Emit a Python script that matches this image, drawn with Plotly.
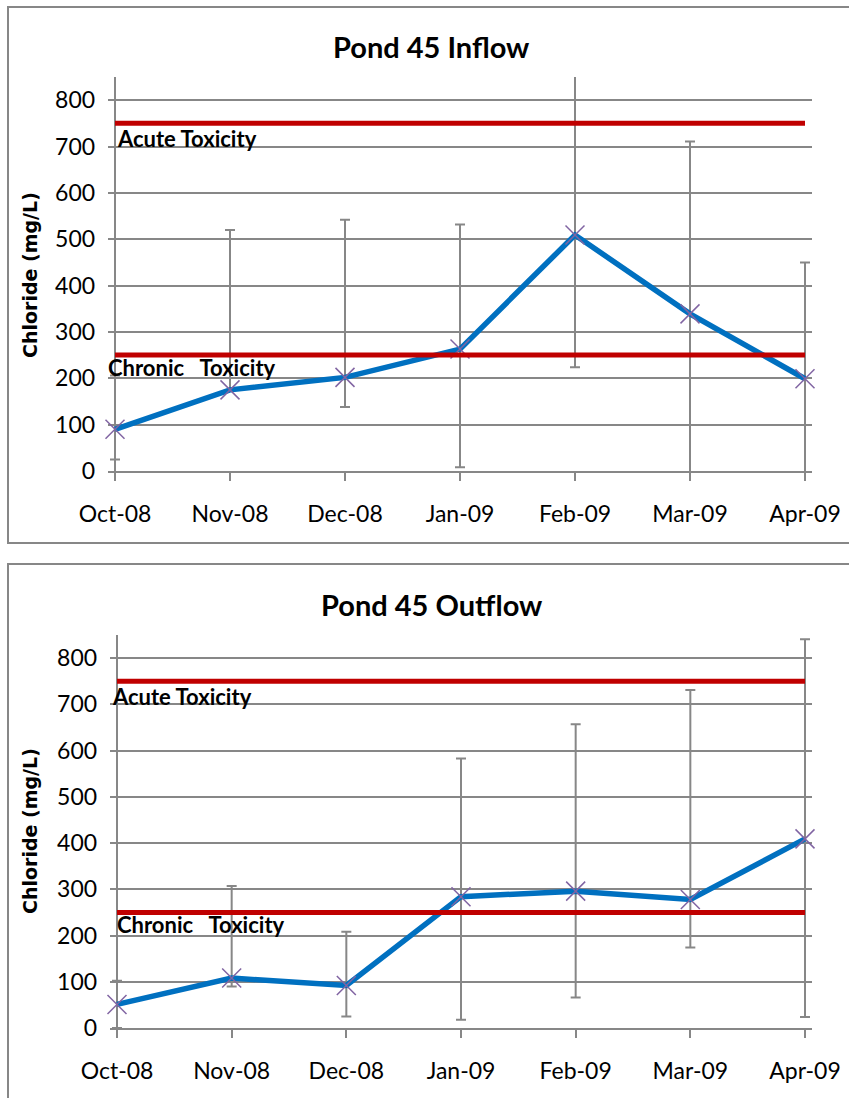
import plotly.graph_objects as go

# months on the x axis
months = ['Oct-08', 'Nov-08', 'Dec-08', 'Jan-09', 'Feb-09', 'Mar-09', 'Apr-09']

# Pond 45 inflow: chloride means and error bar extents (mg/L)
inflow_mean = [90, 175, 202, 263, 509, 339, 199]
inflow_err_plus = [116, 345, 340, 269, 420, 372, 251]
inflow_err_minus = [65, 0, 64, 255, 285, 370, 230]

# Pond 45 outflow
outflow_mean = [51, 108, 92, 284, 296, 278, 409]
outflow_err_plus = [51, 199, 116, 299, 361, 453, 432]
outflow_err_minus = [51, 18, 67, 266, 230, 104, 385]

# toxicity thresholds
acute_level = 750
chronic_level = 250

W, H = 849, 1098
GRAY = '#878787'
RED = '#C00000'
BLUE = '#0070C0'
PURPLE = '#8064A2'
TICK_FONT = dict(family='Lato', size=23, color='black')
PAD = 0.06  # a little room so the edge error bars are not cut in half

x_idx = list(range(len(months)))

fig = go.Figure()


def add_panel(fig, n, mean, eplus, eminus):
    xa = 'x' if n == 1 else f'x{n}'
    ya = 'y' if n == 1 else f'y{n}'
    # error bars (clipped to plot area)
    fig.add_trace(go.Scatter(
        x=x_idx, y=mean, mode='markers', xaxis=xa, yaxis=ya,
        marker=dict(size=1, color='rgba(0,0,0,0)'),
        error_y=dict(type='data', symmetric=False, array=eplus, arrayminus=eminus,
                     color=GRAY, thickness=2, width=5),
        showlegend=False, hoverinfo='skip', cliponaxis=True))
    # data line
    fig.add_trace(go.Scatter(
        x=x_idx, y=mean, mode='lines+markers', xaxis=xa, yaxis=ya,
        line=dict(color=BLUE, width=5.5),
        marker=dict(symbol='x-thin', size=19, line=dict(color=PURPLE, width=1.5)),
        showlegend=False, cliponaxis=False))
    # threshold lines
    for lvl in (acute_level, chronic_level):
        fig.add_trace(go.Scatter(
            x=[x_idx[0], x_idx[-1]], y=[lvl, lvl], mode='lines', xaxis=xa, yaxis=ya,
            line=dict(color=RED, width=5), showlegend=False, hoverinfo='skip'))


add_panel(fig, 1, inflow_mean, inflow_err_plus, inflow_err_minus)
add_panel(fig, 2, outflow_mean, outflow_err_plus, outflow_err_minus)


def px_x(p):
    return p / W


def px_y(p):
    return 1 - p / H


def x_domain(left, right):
    unit = (right - left) / 6
    return [px_x(left - PAD * unit), px_x(right + PAD * unit)]


xaxis_common = dict(range=[-PAD, 6 + PAD], tickvals=x_idx, ticktext=months, showgrid=False,
                    showline=True, linecolor=GRAY, linewidth=2, ticks='outside',
                    ticklen=8, tickcolor=GRAY, tickwidth=2, tickfont=TICK_FONT,
                    ticklabelstandoff=13, zeroline=True, zerolinecolor=GRAY,
                    zerolinewidth=2, fixedrange=True, automargin=False)
yaxis_common = dict(range=[0, 850], tickvals=list(range(0, 801, 100)), showgrid=True,
                    gridcolor=GRAY, gridwidth=2, showline=False, ticks='',
                    tickfont=TICK_FONT, ticklabelstandoff=12, zeroline=False,
                    fixedrange=True, automargin=False)

fig.update_layout(
    width=W, height=H,
    margin=dict(l=0, r=0, t=0, b=0, autoexpand=False),
    paper_bgcolor='white', plot_bgcolor='white',
    xaxis=dict(domain=x_domain(115, 805), anchor='y', **xaxis_common),
    yaxis=dict(domain=[px_y(471), px_y(77)], anchor='x', **yaxis_common),
    xaxis2=dict(domain=x_domain(117, 805), anchor='y2', **xaxis_common),
    yaxis2=dict(domain=[px_y(1028), px_y(635)], anchor='x2', **yaxis_common),
)

# chart borders
fig.add_shape(type='rect', xref='paper', yref='paper',
              x0=px_x(8), x1=1.05, y0=px_y(543), y1=px_y(7),
              line=dict(color=GRAY, width=2), fillcolor='rgba(0,0,0,0)', layer='below')
fig.add_shape(type='rect', xref='paper', yref='paper',
              x0=px_x(8), x1=1.05, y0=-0.05, y1=px_y(564),
              line=dict(color=GRAY, width=2), fillcolor='rgba(0,0,0,0)', layer='below')

TITLE_FONT = dict(family='Lato', size=29, color='black', weight='bold')
LABEL_FONT = dict(family='Lato', size=22, color='black', weight='bold')
YT_FONT = dict(family='DejaVu Sans', size=19, color='black', weight='bold')

annots = [
    dict(text='<b>Pond 45 Inflow</b>', x=px_x(432), y=px_y(47), font=TITLE_FONT),
    dict(text='<b>Pond 45 Outflow</b>', x=px_x(432), y=px_y(604), font=TITLE_FONT),
    dict(text='<b>Chloride (mg/L)</b>', x=px_x(30), y=px_y(275), font=YT_FONT, textangle=-90),
    dict(text='<b>Chloride (mg/L)</b>', x=px_x(30), y=px_y(831), font=YT_FONT, textangle=-90),
]
for a in annots:
    fig.add_annotation(xref='paper', yref='paper', showarrow=False,
                       xanchor='center', yanchor='middle', **a)

labels = [
    ('<b>Acute Toxicity</b>', 115, 138),
    ('<b>Chronic   Toxicity</b>', 106, 367),
    ('<b>Acute Toxicity</b>', 110, 696),
    ('<b>Chronic   Toxicity</b>', 115, 924),
]
for text, lx, ly in labels:
    fig.add_annotation(xref='paper', yref='paper', showarrow=False, text=text,
                       x=px_x(lx), y=px_y(ly), xanchor='left', yanchor='middle',
                       font=LABEL_FONT)

# drop the default page margin so figure pixels line up with the window
fig.write_html('out.html', config=dict(displayModeBar=False),
               post_script="document.body.style.margin='0';")
